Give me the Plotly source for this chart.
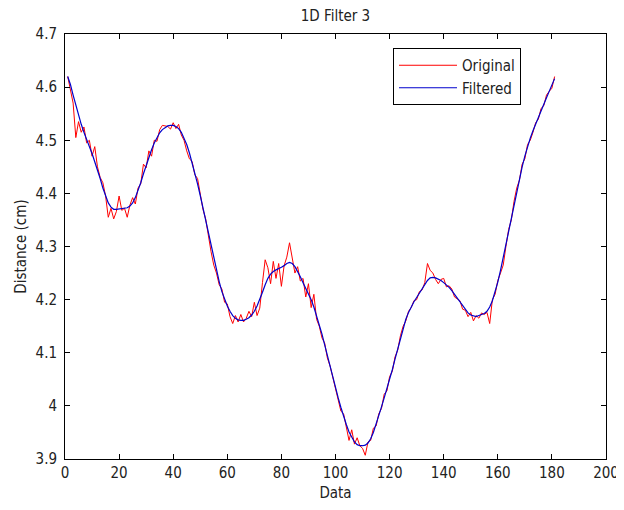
import plotly.graph_objects as go

idx = list(range(1, 182))

original = [
    4.620, 4.598, 4.570, 4.505, 4.535, 4.515, 4.525, 4.495, 4.500, 4.470,
    4.488, 4.450, 4.430, 4.420, 4.395, 4.355, 4.372, 4.352, 4.366, 4.395,
    4.368, 4.372, 4.355, 4.378, 4.392, 4.380, 4.410, 4.418, 4.455, 4.448,
    4.480, 4.470, 4.500, 4.498, 4.520, 4.528, 4.527, 4.526, 4.521, 4.533,
    4.522, 4.530, 4.510, 4.500, 4.480, 4.465, 4.460, 4.435, 4.428, 4.398,
    4.370, 4.352, 4.318, 4.290, 4.265, 4.250, 4.228, 4.220, 4.195, 4.192,
    4.168, 4.155, 4.170, 4.158, 4.172, 4.158, 4.165, 4.178, 4.168, 4.195,
    4.170, 4.184, 4.232, 4.275, 4.260, 4.230, 4.272, 4.240, 4.268, 4.225,
    4.264, 4.280, 4.307, 4.275, 4.250, 4.262, 4.235, 4.240, 4.205, 4.230,
    4.185, 4.210, 4.163, 4.150, 4.128, 4.118, 4.090, 4.075, 4.055, 4.030,
    4.012, 3.990, 3.985, 3.960, 3.935, 3.955, 3.928, 3.940, 3.925, 3.920,
    3.907, 3.932, 3.935, 3.958, 3.962, 3.985, 3.995, 4.022, 4.028, 4.055,
    4.065, 4.092, 4.105, 4.132, 4.150, 4.160, 4.178, 4.185, 4.198, 4.200,
    4.215, 4.218, 4.232, 4.268, 4.255, 4.250, 4.238, 4.230, 4.238, 4.240,
    4.224, 4.226, 4.220, 4.205, 4.202, 4.198, 4.182, 4.180, 4.168, 4.176,
    4.160, 4.170, 4.165, 4.175, 4.172, 4.176, 4.155, 4.200, 4.210, 4.236,
    4.250, 4.265, 4.300, 4.332, 4.350, 4.385, 4.410, 4.425, 4.455, 4.465,
    4.492, 4.500, 4.515, 4.533, 4.540, 4.560, 4.565, 4.585, 4.592, 4.598,
    4.620,
]

filtered = [
    4.620, 4.605, 4.585, 4.565, 4.545, 4.530, 4.515, 4.500, 4.488, 4.475,
    4.460, 4.445, 4.428, 4.410, 4.395, 4.382, 4.374, 4.370, 4.370, 4.371,
    4.372, 4.372, 4.373, 4.376, 4.382, 4.392, 4.405, 4.420, 4.437, 4.453,
    4.468, 4.482, 4.495, 4.506, 4.514, 4.520, 4.524, 4.527, 4.528, 4.528,
    4.526, 4.522, 4.515, 4.505, 4.492, 4.476, 4.458, 4.438, 4.418, 4.396,
    4.372, 4.348, 4.324, 4.300, 4.276, 4.254, 4.234, 4.215, 4.200, 4.188,
    4.178, 4.170, 4.165, 4.162, 4.161, 4.161, 4.163, 4.166, 4.171, 4.178,
    4.188, 4.200, 4.214, 4.228, 4.240, 4.248, 4.253, 4.256, 4.258, 4.261,
    4.264, 4.268, 4.270, 4.268, 4.262, 4.253, 4.243, 4.232, 4.222, 4.212,
    4.200, 4.186, 4.170, 4.153, 4.135, 4.115, 4.094, 4.073, 4.053, 4.034,
    4.015, 3.997, 3.980, 3.965, 3.951, 3.940, 3.932, 3.927, 3.925, 3.925,
    3.926, 3.930, 3.938, 3.950, 3.965, 3.982, 3.998, 4.015, 4.032, 4.050,
    4.068, 4.088, 4.108, 4.128, 4.147, 4.163, 4.176, 4.187, 4.196, 4.204,
    4.212, 4.220, 4.228, 4.236, 4.241, 4.242, 4.241, 4.239, 4.236, 4.232,
    4.228, 4.223, 4.217, 4.210, 4.203, 4.195, 4.188, 4.181, 4.175, 4.171,
    4.169, 4.168, 4.170, 4.172, 4.174, 4.178, 4.186, 4.198, 4.214, 4.233,
    4.255, 4.280, 4.305, 4.330, 4.355, 4.380, 4.405, 4.428, 4.450, 4.470,
    4.488, 4.504, 4.518, 4.531, 4.544, 4.556, 4.568, 4.580, 4.592, 4.604,
    4.616,
]

x_ticks = [0, 20, 40, 60, 80, 100, 120, 140, 160, 180, 200]
y_ticks = [3.9, 4.0, 4.1, 4.2, 4.3, 4.4, 4.5, 4.6, 4.7]
y_labels = ["3.9", "4", "4.1", "4.2", "4.3", "4.4", "4.5", "4.6", "4.7"]

FAM = "Liberation Sans Narrow, DejaVu Sans Condensed, Liberation Sans, Arial, sans-serif"
TXT = "#222222"
tick_font = dict(family=FAM, size=15, color=TXT)
title_font = dict(family=FAM, size=15, color=TXT)

# page body has an 8px default margin; figure sized so it ends at 624x510
W, H = 616, 502
ML, MR, MT, MB = 57, 18, 26, 51

axis_common = dict(showline=True, linecolor="black", linewidth=1, mirror="allticks",
                   ticks="inside", ticklen=5, tickcolor="black", showgrid=False,
                   zeroline=False, tickfont=tick_font, automargin=False)

fig = go.Figure()
fig.add_trace(go.Scatter(x=idx, y=original, mode="lines", name="Original",
                         line=dict(color="#ff0000", width=1)))
fig.add_trace(go.Scatter(x=idx, y=filtered, mode="lines", name="Filtered",
                         line=dict(color="#0000cc", width=1.2)))

plot_w = W - ML - MR
plot_h = H - MT - MB

fig.update_layout(
    width=W, height=H,
    margin=dict(l=ML, r=MR, t=MT, b=MB),
    paper_bgcolor="white", plot_bgcolor="white",
    font=dict(family=FAM, size=15, color=TXT),
    title=dict(text="1D Filter 3", x=(ML + plot_w / 2) / W, xanchor="center",
               y=1 - 2 / H, yanchor="top",
               font=dict(family=FAM, size=15, color=TXT)),
    xaxis=dict(range=[0, 200], tickvals=x_ticks,
               title=dict(text="Data", standoff=6, font=title_font),
               **axis_common),
    yaxis=dict(range=[3.9, 4.7], tickvals=y_ticks, ticktext=y_labels,
               ticklabelstandoff=4,
               title=dict(text="Distance (cm)", standoff=5, font=title_font),
               **axis_common),
    legend=dict(x=(513 - ML) / plot_w, xanchor="right", y=1 - 14 / plot_h, yanchor="top",
                bordercolor="black", borderwidth=1, bgcolor="white",
                font=dict(family=FAM, size=15, color=TXT),
                itemwidth=58, tracegroupgap=0),
    showlegend=True,
)

fig.write_html("out.html")
